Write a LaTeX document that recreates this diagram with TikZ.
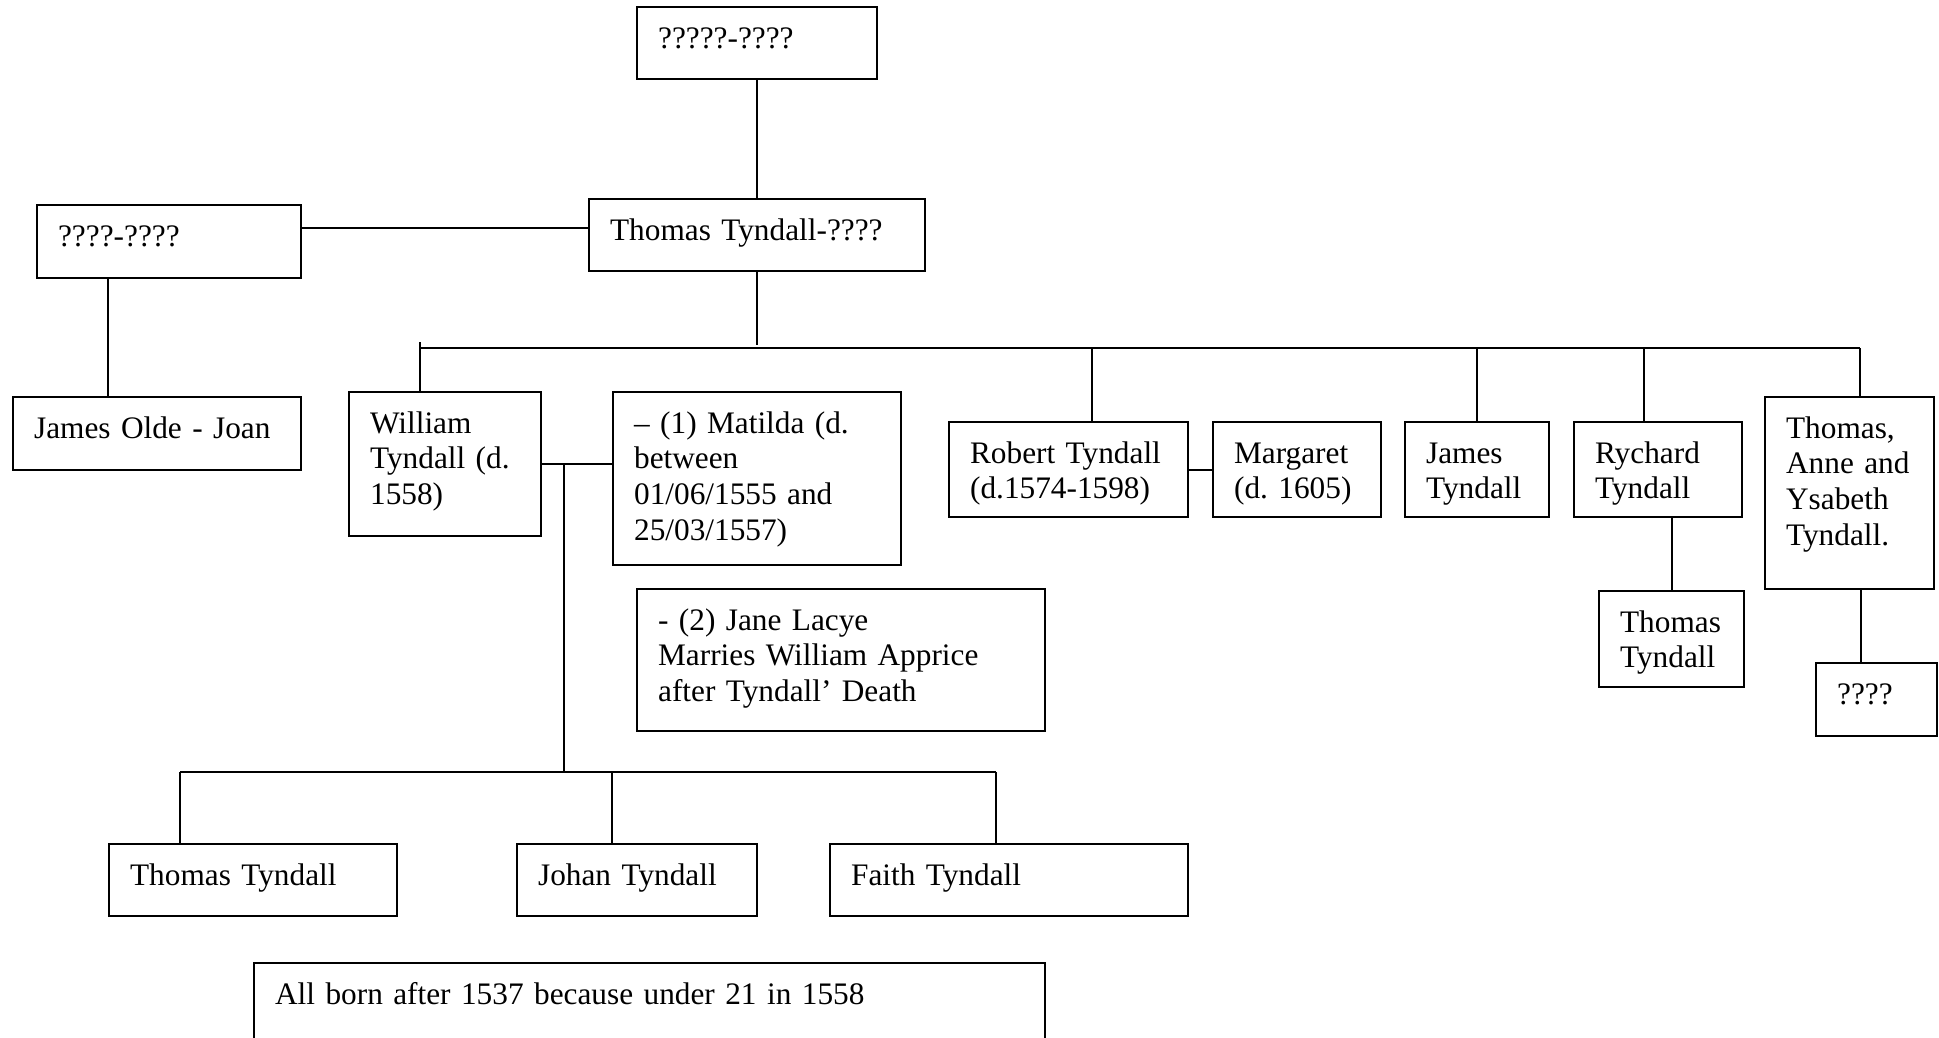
\documentclass[tikz,border=0pt]{standalone}
\usepackage{fontspec}
\setmainfont{Liberation Serif}
\frenchspacing

\begin{document}
\begin{tikzpicture}[x=1pt, y=-1pt, line width=2.2pt, font=\fontsize{31.3}{35.8}\selectfont]

      \useasboundingbox (0,0) rectangle (1939,1037);

      \begin{scope}[every node/.style={draw, anchor=north west, align=left, inner xsep=21pt, inner ysep=0pt, text height=41pt}]
        \node[text width=198pt, text depth=31pt]  (top)     at (636,6)    {?????-????};
        \node[text width=222pt, text depth=32pt]  (lft)     at (36,204)   {????-????};
        \node[text width=294pt, text depth=31pt]  (thomas)  at (588,198)  {Thomas Tyndall-????};
        \node[text width=246pt, text depth=32pt]  (olde)    at (12,396)   {James Olde - Joan};
        \node[text width=150pt, text depth=103pt] (william) at (348,391)  {William\\Tyndall (d.\\1558)};
        \node[text width=246pt, text depth=132pt] (matilda) at (612,391)  {– (1) Matilda (d.\\between\\01/06/1555 and\\25/03/1557)};
        \node[text width=366pt, text depth=101pt] (jane)    at (636,588)  {- (2) Jane Lacye\\Marries William Apprice\\after Tyndall’ Death};
        \node[text width=197pt, text depth=54pt]  (robert)  at (948,421)  {Robert Tyndall\\(d.1574-1598)};
        \node[text width=126pt, text depth=54pt]  (margaret) at (1212,421) {Margaret\\(d. 1605)};
        \node[text width=102pt, text depth=54pt]  (jamesT)  at (1404,421) {James\\Tyndall};
        \node[text width=126pt, text depth=54pt]  (rychard) at (1573,421) {Rychard\\Tyndall};
        \node[text width=127pt, text depth=151pt] (tas)     at (1764,396) {Thomas,\\Anne and\\Ysabeth\\Tyndall.};
        \node[text width=103pt, text depth=55pt]  (rthomas) at (1598,590) {Thomas\\Tyndall};
        \node[text width=79pt,  text depth=32pt]  (unk)     at (1815,662) {????};
        \node[text width=246pt, text depth=31pt]  (bthomas) at (108,843)  {Thomas Tyndall};
        \node[text width=198pt, text depth=31pt]  (johan)   at (516,843)  {Johan Tyndall};
        \node[text width=316pt, text depth=31pt]  (faith)   at (829,843)  {Faith Tyndall};
        \node[text width=749pt, text depth=79pt]  (note)    at (253,962)  {All born after 1537 because under 21 in 1558};
      \end{scope}

      % parents of Thomas
      \draw (top) -- (thomas);
      \draw (lft.east |- 0,228) -- (thomas.west |- 0,228);
      \draw (lft.south -| 108,0) -- (olde.north -| 108,0);

      % children of Thomas
      \draw (thomas.south) -- ++(0,73);
      \draw (420,348) -- (1860,348);
      \draw (420,342) -- (william.north -| 420,0);
      \draw (1092,348) -- (robert.north -| 1092,0);
      \draw (1477,348) -- (jamesT.north -| 1477,0);
      \draw (1644,348) -- (rychard.north -| 1644,0);
      \draw (1860,348) -- (tas.north -| 1860,0);

      \draw (robert) -- (margaret);
      \draw (rychard.south -| rthomas.north) -- (rthomas.north);
      \draw (tas.south -| 1861,0) -- (unk.north -| 1861,0);

      % children of William
      \draw (william.east) -- (matilda.west |- william.east);
      \draw (564,463) -- (564,772);
      \draw (180,772) -- (996,772);
      \draw (180,772) -- (bthomas.north -| 180,0);
      \draw (612,772) -- (johan.north -| 612,0);
      \draw (996,772) -- (faith.north -| 996,0);

    \end{tikzpicture}
\end{document}
